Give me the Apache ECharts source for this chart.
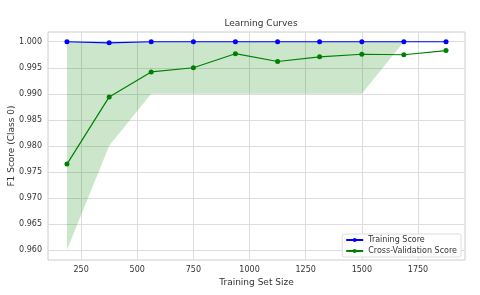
<!DOCTYPE html>
<html><head><meta charset="utf-8">
<script src="https://cdn.jsdelivr.net/npm/echarts@6/dist/echarts.min.js"></script>
<style>html,body{margin:0;padding:0;background:#fff}#c{width:480px;height:295px}</style>
</head><body><div id="c"></div>
<script>
const trainSizes = [187, 375, 562, 750, 937, 1125, 1312, 1500, 1687, 1875];
const trainScores = [1.0, 0.9998, 1.0, 1.0, 1.0, 1.0, 1.0, 1.0, 1.0, 1.0];
const cvScores = [0.9765, 0.9894, 0.9942, 0.9950, 0.9977, 0.9962, 0.9971, 0.9976, 0.9975, 0.9983];
const cvLower = [0.960, 0.980, 0.990, 0.990, 0.990, 0.990, 0.990, 0.990, 1.000, 1.000];
const cvUpper = [1.000, 1.000, 1.000, 1.000, 1.000, 1.000, 1.000, 1.000, 1.000, 1.000];
const xTicks = [250, 500, 750, 1000, 1250, 1500, 1750];
const yTicks = [0.960, 0.965, 0.970, 0.975, 0.980, 0.985, 0.990, 0.995, 1.000];

const font = 'DejaVu Sans';
const txt = '#333';
const chart = echarts.init(document.getElementById('c'), null, {renderer: 'canvas'});
const pairs = (xs, ys) => xs.map((x, i) => [x, ys[i]]);
const bandData = trainSizes.map((x, i) => [x, cvLower[i], cvUpper[i]]);
chart.setOption({
  animation: false,
  backgroundColor: '#fff',
  textStyle: {fontFamily: font},
  title: {text: 'Learning Curves', left: 256, top: 14, textAlign: 'center',
    textStyle: {fontFamily: font, fontSize: 9, fontWeight: 'normal', color: txt}},
  grid: {left: 48, right: 15, top: 32, bottom: 35, show: true, borderColor: '#cccccc', borderWidth: 1,
    containLabel: false, outerBoundsMode: 'none'},
  xAxis: {
    type: 'value', min: 102.6, max: 1959.4,
    name: 'Training Set Size', nameLocation: 'middle', nameGap: 18, nameMoveOverlap: false,
    nameTextStyle: {fontFamily: font, fontSize: 9, color: txt},
    axisLine: {show: false}, axisTick: {show: false, customValues: xTicks},
    axisLabel: {customValues: xTicks, fontFamily: font, fontSize: 8, color: txt, margin: 6,
      formatter: v => String(v)},
    splitLine: {show: true, lineStyle: {color: '#dddddd', width: 1}}
  },
  yAxis: {
    type: 'value', min: 0.95808, max: 1.00187,
    name: 'F1 Score (Class 0)', nameLocation: 'middle', nameGap: 32, nameRotate: 90, nameMoveOverlap: false,
    nameTextStyle: {fontFamily: font, fontSize: 9, color: txt},
    axisLine: {show: false}, axisTick: {show: false, customValues: yTicks},
    axisLabel: {customValues: yTicks, fontFamily: font, fontSize: 8, color: txt, margin: 6,
      formatter: v => v.toFixed(3)},
    splitLine: {show: true, lineStyle: {color: '#dddddd', width: 1}}
  },
  legend: {
    orient: 'vertical', right: 19, bottom: 38, padding: [2, 4, 2, 3],
    borderColor: '#dddddd', borderWidth: 1, borderRadius: 2, backgroundColor: '#fff',
    itemWidth: 17, itemHeight: 5, itemGap: 3,
    textStyle: {fontFamily: font, fontSize: 8, color: txt},
    data: ['Training Score', 'Cross-Validation Score']
  },
  series: [
    {name: 'band', type: 'custom', data: bandData, encode: {x: 0, y: [1, 2]}, silent: true, z: 1,
      renderItem: (params, api) => {
        if (params.dataIndex !== 0) return null;
        const pts = [];
        for (let i = 0; i < bandData.length; i++) pts.push(api.coord([bandData[i][0], bandData[i][2]]));
        for (let i = bandData.length - 1; i >= 0; i--) pts.push(api.coord([bandData[i][0], bandData[i][1]]));
        return {type: 'polygon', shape: {points: pts}, style: {fill: 'rgba(0,128,0,0.2)', stroke: null}};
      }},
    {name: 'Training Score', type: 'line', data: pairs(trainSizes, trainScores),
      color: '#0000ff', symbol: 'circle', symbolSize: 5, lineStyle: {width: 1.2, color: '#0000ff'},
      itemStyle: {color: '#0000ff'}, z: 3},
    {name: 'Cross-Validation Score', type: 'line', data: pairs(trainSizes, cvScores),
      color: '#008000', symbol: 'circle', symbolSize: 5, lineStyle: {width: 1.2, color: '#008000'},
      itemStyle: {color: '#008000'}, z: 3}
  ]
});
</script></body></html>
